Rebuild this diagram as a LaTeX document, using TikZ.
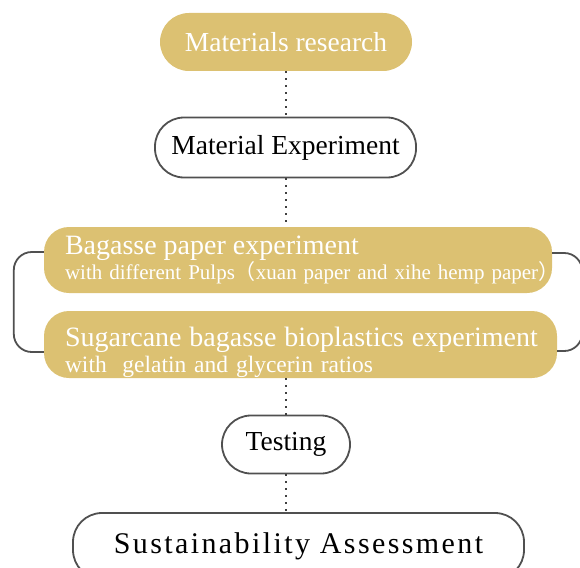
\documentclass[tikz,border=0pt]{standalone}
\usepackage{fontspec}
\setmainfont{Liberation Serif}
\newfontfamily\cjk{Noto Sans CJK SC}
\definecolor{gold}{RGB}{220,193,114}
\definecolor{edge}{RGB}{80,80,80}

\begin{document}
\begin{tikzpicture}[x=1pt, y=-1pt,
  gold/.style={fill=gold, text=white, rounded corners=25pt, inner sep=0pt},
  plain/.style={draw=edge, line width=1.8pt, fill=white, rounded corners=29pt, inner sep=0pt},
  title/.style={font=\fontsize{27.5}{30}\selectfont},
  sub/.style={text width=#1, inner xsep=21pt, align=left},
  dots/.style={draw=edge!80!black, line width=2pt, dash pattern=on 2pt off 5pt},
  brace/.style={draw=edge, line width=1.8pt, rounded corners=18pt}]
  \path[use as bounding box, clip] (0,0) rectangle (580,567);
  % nodes
  \node[gold, title, minimum width=252pt, minimum height=58pt, rounded corners=29pt] (research) at (286,42) {Materials research};
  \node[plain, title, minimum width=261pt, minimum height=60pt] (experiment) at (285.5,147.5) {Material Experiment};
  \node[gold, sub=466pt, minimum height=66pt, font=\fontsize{21}{24}\selectfont] (paper) at (298,260)
    {\mbox{\fontsize{28}{30}\selectfont Bagasse paper experiment}\\\mbox{with different Pulps{\cjk （}xuan paper and xihe hemp paper{\cjk ）}}};
  \node[gold, sub=471pt, minimum height=67pt, font=\fontsize{23.5}{26}\selectfont] (plastic) at (300.5,344.5)
    {\mbox{\fontsize{28}{30}\selectfont\rule{0pt}{35pt}Sugarcane bagasse bioplastics experiment}\\\mbox{with\ \ gelatin and glycerin ratios}};
  \node[plain, title, minimum width=128pt, minimum height=58pt] (testing) at (286,444.5) {Testing};
  \node[plain, minimum width=451pt, minimum height=66pt, font=\fontsize{30}{32}\selectfont\addfontfeature{LetterSpace=8}] (assess) at (298.5,546) {Sustainability Assessment};
  % edges
  \draw[dots] (research.south) -- (research.south |- experiment.north);
  \draw[dots] (experiment.south) -- (experiment.south |- paper.north);
  \draw[dots] (testing.north |- plastic.south) -- (testing.north);
  \draw[dots] (testing.south) -- (testing.south |- assess.north);
  \draw[brace] ([yshift=8pt]paper.west) -- ++(-30,0) |- ([yshift=-7.5pt]plastic.west);
  \draw[brace] ([yshift=7pt]paper.east) -- ++(30,0) |- ([yshift=-6.5pt]plastic.east);
\end{tikzpicture}
\end{document}
